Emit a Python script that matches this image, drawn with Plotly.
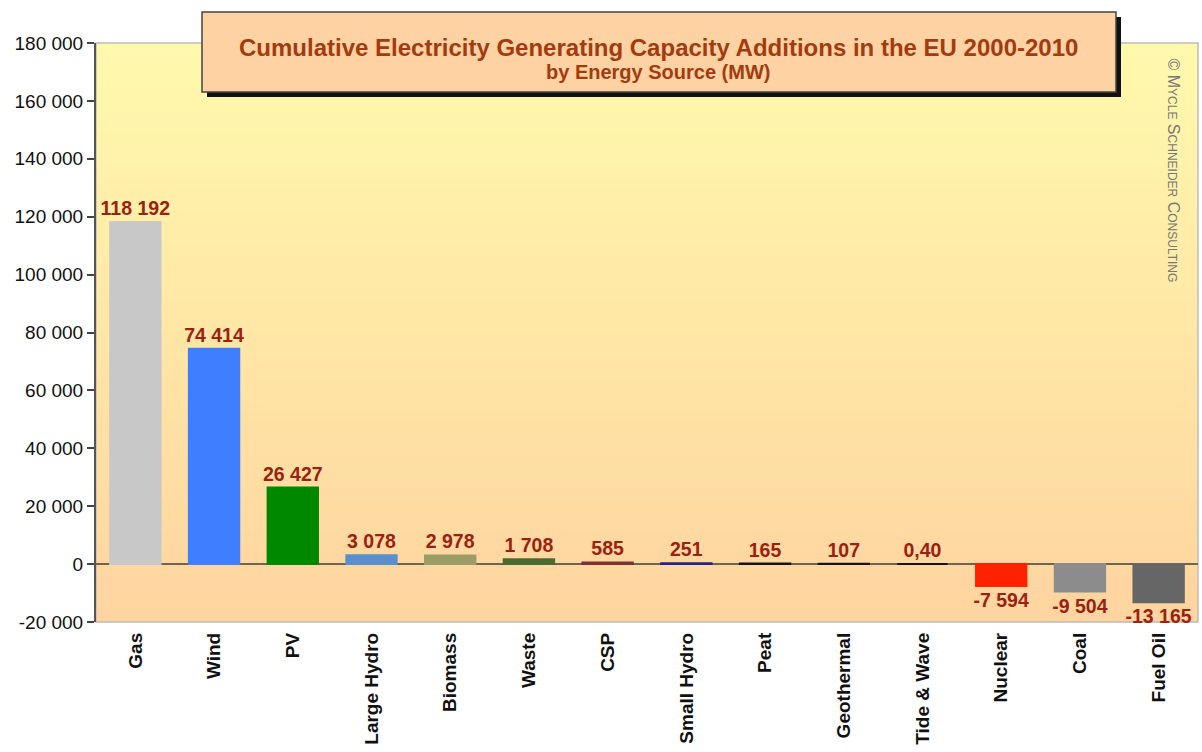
import plotly.graph_objects as go

categories = ["Gas", "Wind", "PV", "Large Hydro", "Biomass", "Waste", "CSP",
              "Small Hydro", "Peat", "Geothermal", "Tide & Wave", "Nuclear", "Coal", "Fuel Oil"]
values = [118192, 74414, 26427, 3078, 2978, 1708, 585, 251, 165, 107, 0.40, -7594, -9504, -13165]
bar_colors = ["#c8c8c8", "#3f7fff", "#008800", "#5b8fcb", "#9c9c66", "#4b6a30", "#7a3232",
              "#22228c", "#141414", "#141414", "#141414", "#ff2200", "#8c8c8c", "#666666"]
y_ticks = [-20000, 0, 20000, 40000, 60000, 80000, 100000, 120000, 140000, 160000, 180000]
title_text = "Cumulative Electricity Generating Capacity Additions in the EU 2000-2010"
subtitle_text = "by Energy Source (MW)"


def fmt(v):
    if v != 0 and abs(v) < 1:
        return f"{v:.2f}".replace(".", ",")
    return f"{v:,.0f}".replace(",", " ")


labels = [fmt(v) for v in values]
y_tick_text = [fmt(v) for v in y_ticks]
FONT = "Arial, Liberation Sans, sans-serif"

fig = go.Figure()
fig.add_trace(go.Bar(
    x=categories, y=values,
    marker=dict(color=bar_colors, line=dict(color=bar_colors, width=2)),
    width=0.64,
    text=labels, textposition="outside", constraintext="none", cliponaxis=False,
    textfont=dict(family=FONT, size=19.5, color="#992210", weight="bold"),
    hoverinfo="x+y",
))

W, H = 1202, 752
L, R, T, B = 96, 4, 43, 130
pw, ph = W - L - R, H - T - B

# background gradient bands (paper coords inside plot area)
shapes = []
n = 90
top = (255, 249, 172)
bot = (255, 212, 160)
for i in range(n):
    t = i / (n - 1)
    c = tuple(round(top[k] + (bot[k] - top[k]) * t) for k in range(3))
    y1 = 1 - i / n
    y0 = 1 - (i + 1) / n
    shapes.append(dict(type="rect", xref="paper", yref="paper", x0=0, x1=1, y0=y0 - 0.001, y1=y1,
                       fillcolor=f"rgb{c}", line=dict(width=0), layer="below"))
# light border of plot area
shapes.append(dict(type="rect", xref="paper", yref="paper", x0=0, x1=1, y0=0, y1=1,
                   line=dict(color="#bdbdbd", width=1.5), layer="below"))


def px_x(x):
    return (x - L) / pw


def px_y(y):
    return 1 - (y - T) / ph


# title box shadow and box
bx0, bx1, by0, by1 = px_x(202), px_x(1116), px_y(92), px_y(12)
shapes.append(dict(type="rect", xref="paper", yref="paper",
                   x0=px_x(207), x1=px_x(1121), y0=px_y(97), y1=px_y(17),
                   fillcolor="#111111", line=dict(width=0), layer="above"))
shapes.append(dict(type="rect", xref="paper", yref="paper", x0=bx0, x1=bx1, y0=by0, y1=by1,
                   fillcolor="#fed2a2", line=dict(color="#444444", width=1.5), layer="above"))

sc = "<span style='font-size:12px'>"
copyright_text = f"© M{sc}YCLE</span> S{sc}CHNEIDER</span> C{sc}ONSULTING</span>"

fig.update_layout(
    width=W, height=H,
    margin=dict(l=L, r=R, t=T, b=B, autoexpand=False),
    paper_bgcolor="white", plot_bgcolor="#ffe8b0",
    showlegend=False,
    shapes=shapes,
    xaxis=dict(
        type="category", range=[-0.5, 13.5], tickangle=-90, automargin=False,
        tickfont=dict(family=FONT, size=19, color="#111111", weight="bold"),
        showgrid=False, showline=False, ticks="", zeroline=False, ticklabelstandoff=6,
    ),
    yaxis=dict(
        range=[-20000, 180000], tickvals=y_ticks, ticktext=y_tick_text, automargin=False,
        tickfont=dict(family=FONT, size=19, color="#111111"),
        showgrid=False, showline=True, linecolor="#555555", linewidth=2,
        ticks="outside", ticklen=7, tickwidth=2, tickcolor="#444444",
        zeroline=True, zerolinecolor="#6e6450", zerolinewidth=1.5,
    ),
    annotations=[
        dict(text=title_text, xref="paper", yref="paper", x=px_x(659), y=px_y(32),
             showarrow=False, font=dict(family=FONT, size=24, color="#a23c10", weight="bold")),
        dict(text=subtitle_text, xref="paper", yref="paper", x=px_x(658), y=px_y(59),
             showarrow=False, font=dict(family=FONT, size=20, color="#a23c10", weight="bold")),
        dict(text=copyright_text, xref="paper", yref="paper", x=px_x(1184), y=px_y(56),
             showarrow=False, textangle=90,
             font=dict(family=FONT, size=16, color="#777777")),
    ],
)

post = ("document.documentElement.style.margin='0';document.body.style.margin='0';"
        "document.body.style.padding='0';document.documentElement.style.overflow='hidden';"
        "document.body.style.overflow='hidden';")
fig.write_html("out.html", config={"responsive": False, "displayModeBar": False}, post_script=post)
